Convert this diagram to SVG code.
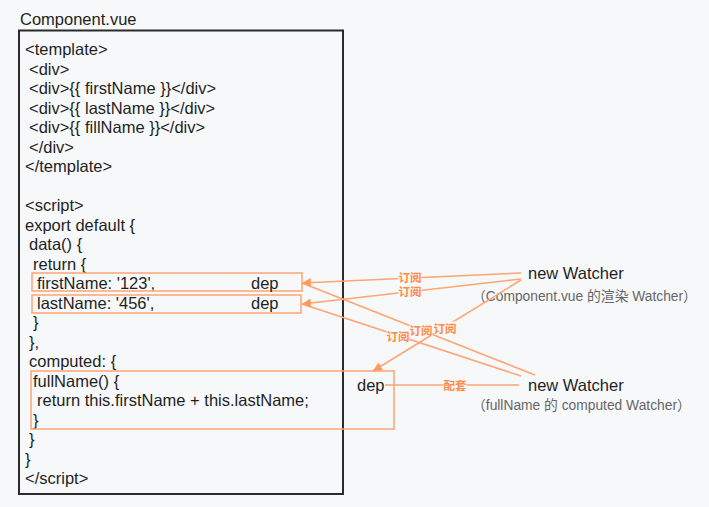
<svg xmlns="http://www.w3.org/2000/svg" width="709" height="507" viewBox="0 0 709 507">
<defs>
<style>
.code{font-family:"Liberation Sans",Arial,sans-serif;font-size:16.5px;fill:#1f1f1f}
.sub{font-family:"Liberation Sans","Noto Sans CJK SC",sans-serif;font-size:13.8px;fill:#666}
.ob{fill:none;stroke:#ffa472;stroke-width:1.5}
.ln{fill:none;stroke:#ffa472;stroke-width:1.5}
.lbl{font-family:"Noto Sans CJK SC",sans-serif;font-size:11.5px;fill:#ff8a45;font-weight:bold;text-anchor:middle;dominant-baseline:central}
.lb{fill:#f7f8fa}
</style>
<marker id="ah" markerUnits="userSpaceOnUse" markerWidth="10" markerHeight="10" refX="9" refY="4.5" orient="auto">
<path d="M0,0 L9,4.5 L0,9 Z" fill="#ff9a5e"/>
</marker>
</defs>
<rect width="709" height="507" fill="#f7f8fa"/>
<g id="component">
<text class="code" x="20" y="25">Component.vue</text>
<rect x="19" y="30.5" width="324" height="463.5" fill="none" stroke="#2b2b2b" stroke-width="2"/>
<text class="code" x="25" y="55">&lt;template&gt;</text>
<text class="code" x="29" y="74.5">&lt;div&gt;</text>
<text class="code" x="29" y="94">&lt;div&gt;{{ firstName }}&lt;/div&gt;</text>
<text class="code" x="29" y="113.5">&lt;div&gt;{{ lastName }}&lt;/div&gt;</text>
<text class="code" x="29" y="133">&lt;div&gt;{{ fillName }}&lt;/div&gt;</text>
<text class="code" x="29" y="152.5">&lt;/div&gt;</text>
<text class="code" x="25" y="172">&lt;/template&gt;</text>
<text class="code" x="25" y="211">&lt;script&gt;</text>
<text class="code" x="25" y="230.5">export default {</text>
<text class="code" x="29" y="250">data() {</text>
<text class="code" x="33" y="269.5">return {</text>
<text class="code" x="37" y="289">firstName: '123',</text>
<text class="code" x="37" y="308.5">lastName: '456',</text>
<text class="code" x="33" y="328">}</text>
<text class="code" x="29" y="347.5">},</text>
<text class="code" x="29" y="367">computed: {</text>
<text class="code" x="33" y="386.5">fullName() {</text>
<text class="code" x="37" y="406">return this.firstName + this.lastName;</text>
<text class="code" x="33" y="425.5">}</text>
<text class="code" x="29" y="445">}</text>
<text class="code" x="25" y="464.5">}</text>
<text class="code" x="25" y="484">&lt;/script&gt;</text>
</g>
<g id="firstName-dep">
<rect class="ob" x="32" y="273" width="270" height="18"/>
<text class="code" x="251" y="289">dep</text>
</g>
<g id="lastName-dep">
<rect class="ob" x="32" y="295" width="269" height="18"/>
<text class="code" x="251" y="308.5">dep</text>
</g>
<g id="fullName-dep">
<rect class="ob" x="31" y="371" width="363" height="58"/>
<text class="code" x="357" y="391">dep</text>
</g>
<g id="render-watcher">
<text class="code" x="528" y="279">new Watcher</text>
<text class="sub" x="472" y="301">（Component.vue 的渲染 Watcher）</text>
</g>
<g id="computed-watcher">
<text class="code" x="528" y="391">new Watcher</text>
<text class="sub" x="472" y="410">（fullName 的 computed Watcher）</text>
</g>
<g id="connectors">
<line class="ln" x1="535" y1="375" x2="302" y2="283"/>
<line class="ln" x1="521" y1="376" x2="302" y2="304"/>
<line class="ln" x1="521" y1="273" x2="302" y2="283" marker-end="url(#ah)"/>
<line class="ln" x1="521" y1="279" x2="302" y2="304" marker-end="url(#ah)"/>
<line class="ln" x1="521" y1="280" x2="373" y2="371" marker-end="url(#ah)"/>
<line class="ln" x1="385" y1="385" x2="519" y2="385"/>
<rect class="lb" x="398.5" y="270.5" width="23" height="12"/>
<text class="lbl" x="410" y="276.5">订阅</text>
<rect class="lb" x="398.5" y="285" width="23" height="12"/>
<text class="lbl" x="410" y="291">订阅</text>
<rect class="lb" x="409.5" y="324" width="23" height="12"/>
<text class="lbl" x="421" y="330">订阅</text>
<rect class="lb" x="433.5" y="321.5" width="23" height="12"/>
<text class="lbl" x="445" y="327.5">订阅</text>
<rect class="lb" x="386.5" y="329.6" width="23" height="12"/>
<text class="lbl" x="398" y="335.6">订阅</text>
<rect class="lb" x="443.5" y="379" width="23" height="12"/>
<text class="lbl" x="455" y="385">配套</text>
</g>
</svg>
